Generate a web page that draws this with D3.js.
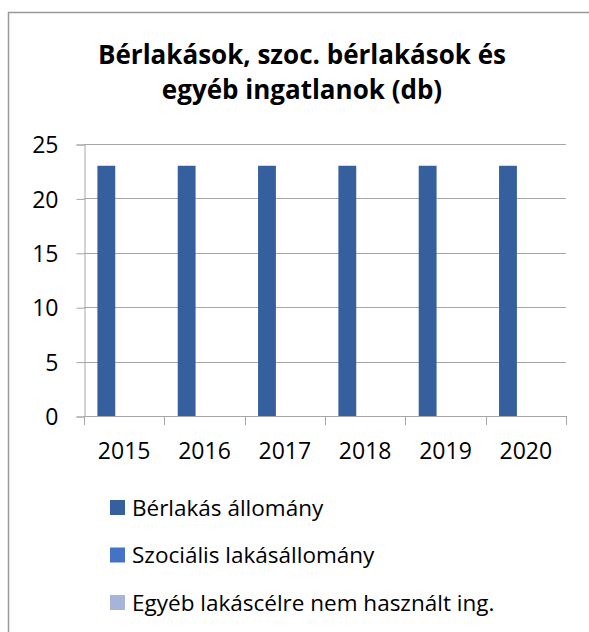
<!DOCTYPE html>
<html>
<head>
<meta charset="utf-8">
<script src="https://cdn.jsdelivr.net/npm/d3@7"></script>
<style>
  body { margin: 0; background: #fff; }
  text { font-family: "Open Sans", sans-serif; fill: #000; }
</style>
</head>
<body>
<div id="chart"></div>
<script>
// chart data
const years = ["2015", "2016", "2017", "2018", "2019", "2020"];
const seriesNames = ["Bérlakás állomány", "Szociális lakásállomány", "Egyéb lakáscélre nem használt ing."];
const berlakas = [23, 23, 23, 23, 23, 23];
const szocialis = [0, 0, 0, 0, 0, 0];
const egyeb = [0, 0, 0, 0, 0, 0];
const seriesColors = ["#365F9E", "#4472C4", "#A6B4DA"];
const yTicks = [0, 5, 10, 15, 20, 25];

const width = 589, height = 632;
const plot = { left: 84, right: 566, top: 144, bottom: 416 };

const svg = d3.select("#chart").append("svg")
  .attr("width", width)
  .attr("height", height);

svg.append("rect")
  .attr("x", 8.5).attr("y", 12.5)
  .attr("width", 600).attr("height", 640)
  .attr("fill", "#fff")
  .attr("stroke", "#9a9a9a")
  .attr("stroke-width", 1.5);

// title
const title = svg.append("text")
  .attr("text-anchor", "middle")
  .attr("font-weight", "bold")
  .attr("font-size", 26);
title.append("tspan").attr("x", 302).attr("y", 64).text("Bérlakások, szoc. bérlakások és");
title.append("tspan").attr("x", 302).attr("y", 99).text("egyéb ingatlanok (db)");

const x = d3.scaleBand().domain(years).range([plot.left, plot.right]);
const xs = d3.scaleBand().domain(d3.range(seriesNames.length))
  .range([0, x.bandwidth()]).paddingInner(0).paddingOuter(0.75);
const y = d3.scaleLinear().domain([0, 25]).range([plot.bottom, plot.top]);

// gridlines
svg.append("g").selectAll("line").data(yTicks.filter(d => d > 0)).join("line")
  .attr("x1", plot.left).attr("x2", plot.right)
  .attr("y1", d => Math.round(y(d)) + 0.5).attr("y2", d => Math.round(y(d)) + 0.5)
  .attr("stroke", "#a6a6a6");

// y axis
const yAxis = svg.append("g")
  .attr("transform", "translate(" + (plot.left + 0.5) + ",0.5)")
  .call(d3.axisLeft(y).tickValues(yTicks).tickSize(8).tickPadding(18));
yAxis.select(".domain").attr("stroke", "#a6a6a6");
yAxis.selectAll(".tick line").attr("stroke", "#a6a6a6");
yAxis.selectAll(".tick text").attr("font-size", 23).attr("font-family", null).attr("dy", "0.36em");

// bars
const seriesData = [berlakas, szocialis, egyeb];
seriesData.forEach((vals, si) => {
  svg.append("g").selectAll("rect").data(vals).join("rect")
    .attr("x", (d, i) => x(years[i]) + xs(si))
    .attr("width", xs.bandwidth())
    .attr("y", d => y(d))
    .attr("height", d => y(0) - y(d))
    .attr("fill", seriesColors[si]);
});

// x axis
const xAxis = svg.append("g");
xAxis.append("line")
  .attr("x1", plot.left).attr("x2", plot.right)
  .attr("y1", plot.bottom + 0.5).attr("y2", plot.bottom + 0.5)
  .attr("stroke", "#a6a6a6");
xAxis.selectAll("line.tk").data(years.map(d => x(d)).concat([plot.right])).join("line")
  .attr("class", "tk")
  .attr("x1", d => Math.round(d) + 0.5).attr("x2", d => Math.round(d) + 0.5)
  .attr("y1", plot.bottom).attr("y2", plot.bottom + 9)
  .attr("stroke", "#a6a6a6");
xAxis.selectAll("text").data(years).join("text")
  .attr("x", d => x(d) + x.bandwidth() / 2)
  .attr("y", 459)
  .attr("text-anchor", "middle")
  .attr("font-size", 23)
  .text(d => d);

// legend
const legend = svg.append("g").selectAll("g").data(seriesNames).join("g")
  .attr("transform", (d, i) => "translate(110," + (500 + i * 47.5) + ")");
legend.append("rect")
  .attr("width", 15).attr("height", 15)
  .attr("fill", (d, i) => seriesColors[i]);
legend.append("text")
  .attr("x", 22).attr("y", 15.5)
  .attr("font-size", 22.5)
  .text(d => d);
</script>
</body>
</html>
